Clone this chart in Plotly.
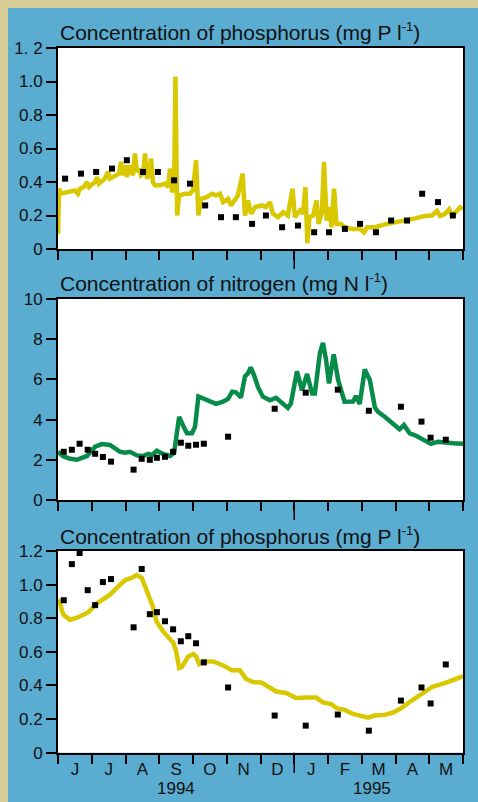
import plotly.graph_objects as go

W, H = 478, 802

# Time axis: months since 1 June 1994 (0 = 1 Jun 1994, 12 = 1 Jun 1995)
month_letters = ["J", "J", "A", "S", "O", "N", "D", "J", "F", "M", "A", "M"]
year_labels = ["1994", "1995"]
year_label_t = [3.5, 9.3]

# --- Panel 1: phosphorus, fortnightly samples and continuous record ---
p1_obs_t = [0.21, 0.68, 1.13, 1.60, 2.04, 2.52, 2.96, 3.44, 3.91, 4.36, 4.83, 5.27, 5.75,
            6.16, 6.64, 7.11, 7.59, 8.03, 8.50, 8.95, 9.42, 9.87, 10.34, 10.79, 11.26, 11.70]
p1_obs = [0.42, 0.45, 0.46, 0.48, 0.53, 0.46, 0.46, 0.41, 0.39, 0.26, 0.19, 0.19, 0.15,
          0.20, 0.13, 0.14, 0.10, 0.10, 0.12, 0.15, 0.10, 0.17, 0.17, 0.33, 0.28, 0.20]

p1_rec_t = [0.00, 0.03, 0.09, 0.36, 0.50, 0.59, 0.65, 0.77, 0.86, 0.92, 1.10, 1.16, 1.21,
            1.39, 1.48, 1.54, 1.72, 1.81, 1.87, 1.93, 1.99, 2.04, 2.13, 2.22, 2.28, 2.34,
            2.40, 2.46, 2.52, 2.58, 2.64, 2.70, 2.76, 2.81, 2.87, 3.02, 3.17, 3.26, 3.32,
            3.38, 3.44, 3.48, 3.53, 3.59, 3.76, 3.91, 4.00, 4.09, 4.16, 4.24, 4.41, 4.56,
            4.68, 4.80, 4.89, 5.04, 5.13, 5.24, 5.33, 5.47, 5.54, 5.63, 5.72, 5.84, 6.04,
            6.16, 6.28, 6.37, 6.52, 6.67, 6.81, 6.95, 7.02, 7.17, 7.26, 7.33, 7.39, 7.45,
            7.56, 7.66, 7.72, 7.82, 7.88, 7.96, 8.06, 8.10, 8.18, 8.25, 8.39, 8.50, 8.71,
            8.95, 9.07, 9.16, 9.39, 9.69, 9.99, 10.28, 10.58, 10.87, 11.08, 11.23, 11.32,
            11.47, 11.59, 11.67, 11.79, 11.91, 12.00]
p1_rec = [0.09, 0.36, 0.33, 0.34, 0.35, 0.33, 0.36, 0.37, 0.40, 0.37, 0.40, 0.43, 0.39,
          0.42, 0.46, 0.42, 0.44, 0.45, 0.52, 0.44, 0.50, 0.43, 0.50, 0.44, 0.57, 0.46,
          0.48, 0.44, 0.45, 0.57, 0.42, 0.45, 0.54, 0.40, 0.38, 0.38, 0.39, 0.37, 0.48,
          0.34, 0.36, 1.03, 0.20, 0.32, 0.33, 0.33, 0.35, 0.53, 0.20, 0.30, 0.31, 0.33,
          0.32, 0.33, 0.28, 0.30, 0.26, 0.29, 0.32, 0.45, 0.20, 0.29, 0.21, 0.25, 0.26,
          0.25, 0.28, 0.21, 0.19, 0.22, 0.20, 0.36, 0.19, 0.23, 0.21, 0.37, 0.035, 0.19,
          0.20, 0.29, 0.15, 0.22, 0.52, 0.17, 0.25, 0.13, 0.36, 0.15, 0.15, 0.13, 0.12,
          0.12, 0.10, 0.13, 0.13, 0.147, 0.157, 0.169, 0.183, 0.197, 0.20, 0.227, 0.197,
          0.21, 0.237, 0.20, 0.22, 0.249, 0.24]

# --- Panels 2 and 3: shared sampling dates ---
obs_t = [0.17, 0.41, 0.64, 0.88, 1.10, 1.33, 1.57, 2.24, 2.48, 2.72, 2.93, 3.17, 3.41,
         3.64, 3.86, 4.09, 4.32, 5.04, 6.42, 7.34, 8.29, 9.21, 10.16, 10.77, 11.04, 11.49]
n_obs = [2.40, 2.50, 2.80, 2.50, 2.30, 2.14, 1.91, 1.51, 2.05, 2.00, 2.10, 2.15, 2.40,
         2.85, 2.70, 2.75, 2.80, 3.15, 4.54, 5.34, 5.49, 4.44, 4.64, 3.90, 3.10, 3.00]
p3_obs = [0.907, 1.122, 1.188, 0.967, 0.878, 1.015, 1.033, 0.746, 1.093, 0.824, 0.836,
          0.782, 0.734, 0.663, 0.693, 0.651, 0.537, 0.388, 0.221, 0.161, 0.227, 0.131,
          0.310, 0.388, 0.293, 0.525]

n_sim_t = [0.00, 0.15, 0.36, 0.56, 0.86, 1.10, 1.30, 1.54, 1.84, 1.99, 2.13, 2.34, 2.52,
           2.67, 2.79, 2.93, 3.11, 3.32, 3.44, 3.53, 3.59, 3.68, 3.82, 3.97, 4.06, 4.16,
           4.30, 4.50, 4.68, 4.89, 5.04, 5.16, 5.27, 5.42, 5.54, 5.63, 5.71, 5.81, 5.93,
           6.07, 6.28, 6.46, 6.67, 6.81, 6.90, 6.99, 7.08, 7.23, 7.38, 7.53, 7.61, 7.76,
           7.85, 7.94, 8.03, 8.17, 8.30, 8.49, 8.74, 8.83, 8.94, 9.09, 9.24, 9.39, 9.48,
           9.68, 9.87, 10.12, 10.25, 10.42, 10.61, 10.87, 11.05, 11.26, 11.47, 11.70, 12.00]
n_sim = [2.40, 2.18, 2.05, 2.00, 2.19, 2.65, 2.78, 2.74, 2.40, 2.35, 2.40, 2.22, 2.19,
         2.29, 2.24, 2.45, 2.29, 2.19, 2.35, 3.65, 4.14, 3.80, 3.32, 3.32, 3.65, 5.15,
         5.06, 4.93, 4.78, 4.89, 5.03, 5.39, 5.36, 5.10, 6.15, 6.30, 6.60, 6.20, 5.60,
         5.14, 4.96, 5.08, 4.75, 4.58, 4.80, 5.60, 6.40, 5.45, 6.27, 5.30, 5.30, 7.30,
         7.82, 7.00, 5.80, 7.25, 5.97, 4.89, 4.90, 5.17, 4.78, 6.50, 5.97, 4.60, 4.39,
         4.14, 3.90, 3.52, 3.73, 3.32, 3.20, 2.99, 2.79, 2.90, 2.85, 2.82, 2.80]

p3_sim_t = [0.00, 0.04, 0.16, 0.36, 0.65, 0.90, 1.15, 1.54, 1.74, 1.99, 2.18, 2.33, 2.48,
            2.63, 2.81, 2.92, 3.12, 3.42, 3.50, 3.59, 3.67, 3.86, 4.01, 4.10, 4.18, 4.31,
            4.60, 4.90, 5.15, 5.39, 5.58, 5.78, 6.02, 6.22, 6.47, 6.76, 7.06, 7.36, 7.65,
            7.85, 8.10, 8.25, 8.49, 8.74, 8.99, 9.19, 9.38, 9.68, 9.93, 10.17, 10.47,
            10.81, 11.11, 11.46, 11.70, 12.00]
p3_sim = [0.91, 0.90, 0.82, 0.79, 0.81, 0.836, 0.888, 0.94, 0.98, 1.027, 1.04, 1.057, 1.04,
          0.97, 0.87, 0.78, 0.72, 0.653, 0.603, 0.504, 0.51, 0.573, 0.587, 0.57, 0.528,
          0.543, 0.543, 0.519, 0.49, 0.49, 0.438, 0.42, 0.418, 0.394, 0.364, 0.355, 0.325,
          0.328, 0.328, 0.299, 0.289, 0.265, 0.255, 0.231, 0.219, 0.209, 0.221, 0.225,
          0.239, 0.265, 0.309, 0.355, 0.394, 0.414, 0.43, 0.455]

# Colours
BLUE = "#5aacd0"
BEIGE = "#d6cd96"
YELLOW = "#d9c800"
GREEN = "#068c48"
FONT = "Liberation Sans, Arial, Helvetica, sans-serif"

fig = go.Figure()

panels = [
    ("", "y", p1_rec_t, p1_rec, YELLOW, p1_obs_t, p1_obs),
    ("2", "y2", n_sim_t, n_sim, GREEN, obs_t, n_obs),
    ("3", "y3", p3_sim_t, p3_sim, YELLOW, obs_t, p3_obs),
]
for suffix, yref, lt, lv, col, ot, ov in panels:
    xa = "x" + suffix
    fig.add_trace(go.Scatter(x=lt, y=lv, mode="lines", xaxis=xa, yaxis=yref,
                             line=dict(color=col, width=4.5), showlegend=False,
                             hoverinfo="skip"))
    fig.add_trace(go.Scatter(x=ot, y=ov, mode="markers", xaxis=xa, yaxis=yref,
                             marker=dict(symbol="square", size=6, color="black",
                                         line=dict(width=0)),
                             showlegend=False, cliponaxis=False))

x_dom = [58 / W, 463 / W]
y_doms = [
    [1 - 249 / H, 1 - 48 / H],
    [1 - 500 / H, 1 - 299 / H],
    [1 - 752.7 / H, 1 - 551 / H],
]
month_mid = [i + 0.5 for i in range(12)]
month_edges = list(range(13))

def x_axis(anchor, labels):
    return dict(
        domain=x_dom, anchor=anchor, range=[0, 12], fixedrange=True, automargin=False,
        showgrid=False, zeroline=False,
        showline=True, linecolor="black", linewidth=2, mirror=True,
        tickmode="array", tickvals=month_mid, ticktext=month_letters,
        ticks="outside", ticklen=0, tickcolor="rgba(0,0,0,0)",
        showticklabels=labels, ticklabelstandoff=0,
        tickfont=dict(family=FONT, size=17, color="#111"),
        minor=dict(tickmode="array", tickvals=month_edges, ticks="outside",
                   ticklen=9, tickwidth=1.5, tickcolor="black", showgrid=False),
    )

def y_axis(anchor, dom, rng, vals, text):
    return dict(
        domain=dom, anchor=anchor, range=rng, fixedrange=True, automargin=False,
        showgrid=False, zeroline=False,
        showline=True, linecolor="black", linewidth=2, mirror=True,
        tickmode="array", tickvals=vals, ticktext=text,
        ticks="outside", ticklen=10, tickwidth=1.5, tickcolor="black",
        tickfont=dict(family=FONT, size=17, color="#111"),
    )

p_vals = [0, 0.2, 0.4, 0.6, 0.8, 1.0, 1.2]
fig.update_layout(
    xaxis=x_axis("y", False),
    xaxis2=x_axis("y2", False),
    xaxis3=x_axis("y3", True),
    yaxis=y_axis("x", y_doms[0], [0, 1.2], p_vals,
                 ["0", "0.2", "0.4", "0.6", "0.8", "1.0", "1. 2"]),
    yaxis2=y_axis("x2", y_doms[1], [0, 10], [0, 2, 4, 6, 8, 10],
                  ["0", "2", "4", "6", "8", "10"]),
    yaxis3=y_axis("x3", y_doms[2], [0, 1.2], p_vals,
                  ["0", "0.2", "0.4", "0.6", "0.8", "1.0", "1.2"]),
)

shapes = [
    # beige frame strips along the top and left edges
    dict(type="rect", xref="paper", yref="paper", x0=0, x1=8 / W, y0=0, y1=1,
         fillcolor=BEIGE, line=dict(width=0), layer="below"),
    dict(type="rect", xref="paper", yref="paper", x0=0, x1=1, y0=1 - 8 / H, y1=1,
         fillcolor=BEIGE, line=dict(width=0), layer="below"),
]
# longer tick marking the turn of the year on each time axis
for suffix in ["", "2", "3"]:
    shapes.append(dict(type="line", xref="x" + suffix, yref="y" + suffix + " domain",
                       x0=7, x1=7, y0=0, y1=-0.1, line=dict(color="black", width=1.5)))

sup = "<sup><span style='font-size:13px'>-1</span></sup>"
titles = [
    ("Concentration of phosphorus (mg P l" + sup + ")", 32),
    ("Concentration of nitrogen (mg N l" + sup + ")", 283),
    ("Concentration of phosphorus (mg P l" + sup + ")", 535),
]
annotations = [
    dict(text=t, xref="paper", yref="paper", x=58 / W, y=1 - yc / H,
         xanchor="left", yanchor="middle", showarrow=False,
         font=dict(family=FONT, size=21, color="#111"))
    for t, yc in titles
]
for lab, t in zip(year_labels, year_label_t):
    annotations.append(dict(text=lab, xref="x3", yref="paper", x=t, y=1 - 788 / H,
                            xanchor="center", yanchor="middle", showarrow=False,
                            font=dict(family=FONT, size=17, color="#111")))

fig.update_layout(
    width=W, height=H,
    margin=dict(l=0, r=0, t=0, b=0, pad=0, autoexpand=False),
    paper_bgcolor=BLUE, plot_bgcolor="white",
    shapes=shapes, annotations=annotations,
    showlegend=False,
)

fig.write_html("out.html", config={"displayModeBar": False})
